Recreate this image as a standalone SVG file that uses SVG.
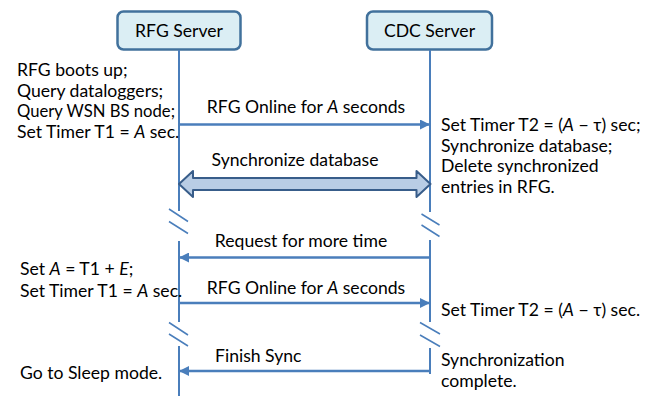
<svg xmlns="http://www.w3.org/2000/svg" width="650" height="408" viewBox="0 0 650 408">
  <defs>
    <marker id="head" viewBox="0 0 10 10" refX="9" refY="5" markerWidth="4" markerHeight="4" markerUnits="strokeWidth" orient="auto">
      <path d="M0,0 L10,5 L0,10 Z" fill="#4a7ebb"/>
    </marker>
    <style>
      text { font-family: Lato, "Open Sans", "Liberation Sans", sans-serif; font-size: 17.6px; fill: #000; }
      .mid { text-anchor: middle; }
      .box { fill: #dbeef4; stroke: #41719c; stroke-width: 2.5; }
      .life { stroke: #4a7ebb; stroke-width: 2; fill: none; }
      .brk { stroke: #4a7ebb; stroke-width: 1.5; fill: none; }
      .msg { stroke: #4a7ebb; stroke-width: 2.5; fill: none; marker-end: url(#head); }
      .bulk { fill: #b9cde5; stroke: #385d8a; stroke-width: 2; stroke-linejoin: round; }
    </style>
  </defs>
  <rect width="650" height="408" fill="#fff"/>

  <!-- participants -->
  <g id="rfg-server">
    <rect class="box" x="117.5" y="11.5" width="123" height="38" rx="6"/>
    <text class="mid" x="179" y="37">RFG Server</text>
  </g>
  <g id="cdc-server">
    <rect class="box" x="367" y="11.5" width="125" height="38" rx="6"/>
    <text class="mid" x="429.5" y="37">CDC Server</text>
  </g>

  <!-- lifelines with time breaks -->
  <g id="lifelines">
    <path class="life" d="M179,50 V211 M179,241 V322 M179,346 V396"/>
    <path class="life" d="M430,50 V212 M430,240 V322 M430,348 V374"/>
    <path class="brk" d="M169,209 L188,221.5 M169,221.5 L188,233.5"/>
    <path class="brk" d="M421.5,214 L439.5,225 M421.5,225 L439.5,236.5"/>
    <path class="brk" d="M169,322.5 L188,335 M169,334 L188,346"/>
    <path class="brk" d="M420,322.5 L440,334 M420,335 L440,346.5"/>
  </g>

  <!-- messages -->
  <g id="connectors">
    <line class="msg" x1="179" y1="124.5" x2="429" y2="124.5"/>
    <path class="bulk" d="M179,184 L193,171 L193,178 L416.5,178 L416.5,171 L430.5,184 L416.5,197 L416.5,190 L193,190 L193,197 Z"/>
    <line class="msg" x1="430" y1="257.5" x2="180" y2="257.5"/>
    <line class="msg" x1="179" y1="303" x2="429" y2="303"/>
    <line class="msg" x1="430" y1="371" x2="180" y2="371"/>
  </g>

  <!-- message labels -->
  <g id="labels">
    <text class="mid" x="306" y="113">RFG Online for <tspan font-style="italic">A</tspan> seconds</text>
    <text class="mid" x="295" y="166">Synchronize database</text>
    <text class="mid" x="301" y="247">Request for more time</text>
    <text class="mid" x="306" y="294">RFG Online for <tspan font-style="italic">A</tspan> seconds</text>
    <text x="215" y="362">Finish Sync</text>
  </g>

  <!-- RFG side notes -->
  <g id="rfg-notes">
    <text x="17" y="76">RFG boots up;</text>
    <text x="17" y="96.5">Query dataloggers;</text>
    <text x="17" y="117" textLength="158" lengthAdjust="spacingAndGlyphs">Query WSN BS node;</text>
    <text x="17" y="137.5">Set Timer T1 = <tspan font-style="italic">A</tspan> sec.</text>
    <text x="20" y="275">Set <tspan font-style="italic">A</tspan> = T1 + <tspan font-style="italic">E</tspan>;</text>
    <text x="20" y="296.5">Set Timer T1 = <tspan font-style="italic">A</tspan> sec.</text>
    <text x="20" y="379">Go to Sleep mode.</text>
  </g>

  <!-- CDC side notes -->
  <g id="cdc-notes">
    <text x="441" y="131">Set Timer T2 = (<tspan font-style="italic">A</tspan> − τ) sec;</text>
    <text x="441" y="151.5">Synchronize database;</text>
    <text x="441" y="172">Delete synchronized</text>
    <text x="441" y="192.5">entries in RFG.</text>
    <text x="441" y="316">Set Timer T2 = (<tspan font-style="italic">A</tspan> − τ) sec.</text>
    <text x="441" y="366">Synchronization</text>
    <text x="441" y="387">complete.</text>
  </g>
</svg>
